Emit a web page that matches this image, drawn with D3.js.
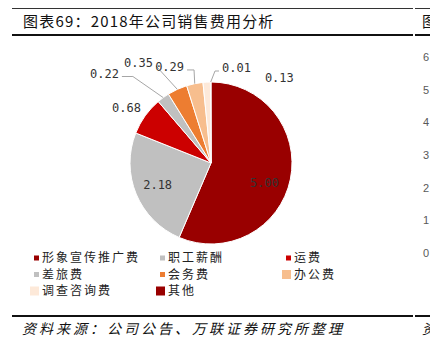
<!DOCTYPE html>
<html lang="zh">
<head>
  <meta charset="UTF-8">
  <title>2018年公司销售费用分析</title>
  <style>
    html, body { margin: 0; padding: 0; background: #fff; }
    svg { display: block; }
    .title { font-family: "Noto Sans CJK SC", sans-serif; font-size: 15px; fill: #111; letter-spacing: 1.2px; }
    .source { font-family: "Noto Sans CJK SC", sans-serif; font-size: 14px; font-style: italic; fill: #111; letter-spacing: 3px; }
    .legend text { font-family: "Noto Sans CJK SC", sans-serif; font-size: 12px; fill: #222; letter-spacing: 2px; }
    .label { font-family: "DejaVu Sans Mono", monospace; font-size: 12px; fill: #333; }
    .tick { font-family: "Liberation Sans", Arial, sans-serif; font-size: 11px; fill: #595959; }
  </style>
</head>
<body>
  <svg id="chart" width="430" height="352"></svg>

  <script src="https://d3js.org/d3.v7.min.js"></script>
  <script>
    const categories = ['形象宣传推广费', '职工薪酬', '运费', '差旅费', '会务费', '办公费', '调查咨询费', '其他'];
    const values = [5.00, 2.18, 0.68, 0.22, 0.35, 0.29, 0.13, 0.01];
    const colors = ['#990000', '#c0c0c0', '#cc0000', '#c0c0c0', '#ed7d31', '#f7be8e', '#fde9d9', '#990000'];
    // neighbouring chart's axis, partly visible at the right edge
    const nextTicks = [0, 1, 2, 3, 4, 5, 6];

    // where each data label goes (offsets from its slice)
    const labelLayout = [
      { mode: 'in', dx: -2, dy: 8.5 },
      { mode: 'in', dx: -1, dy: 0 },
      { mode: 'out', side: -1, dx: -1.1, dy: -5.4, h: 0, line: false },
      { mode: 'out', side: -1, dx: -41.3, dy: -21.1, h: 11, line: true },
      { mode: 'out', side: -1, dx: -21.3, dy: -23.4, h: 0, line: true },
      { mode: 'out', side: -1, dx: -7.7, dy: -13.7, h: 7, line: true },
      { mode: 'out', side: 1, dx: 55.2, dy: -1.6, h: 0, line: false },
      { mode: 'out', side: 1, dx: 8.3, dy: -11, h: 4, line: true }
    ];
    const bigMarkers = new Set(['办公费', '调查咨询费', '其他']);

    const svg = d3.select('#chart');
    const cx = 211, cy = 163, radius = 81;

    // frame lines
    svg.append('line').attr('x1', 12).attr('x2', 413).attr('y1', 8.5).attr('y2', 8.5)
      .attr('stroke', '#333').attr('stroke-width', 1);
    svg.append('line').attr('x1', 415).attr('x2', 430).attr('y1', 8.5).attr('y2', 8.5)
      .attr('stroke', '#333').attr('stroke-width', 1);
    svg.append('line').attr('x1', 12).attr('x2', 413).attr('y1', 35).attr('y2', 35)
      .attr('stroke', '#111').attr('stroke-width', 2);
    svg.append('line').attr('x1', 415).attr('x2', 430).attr('y1', 35).attr('y2', 35)
      .attr('stroke', '#111').attr('stroke-width', 2);
    svg.append('line').attr('x1', 12).attr('x2', 413).attr('y1', 316).attr('y2', 316)
      .attr('stroke', '#111').attr('stroke-width', 2);
    svg.append('line').attr('x1', 415).attr('x2', 430).attr('y1', 316).attr('y2', 316)
      .attr('stroke', '#111').attr('stroke-width', 2);

    svg.append('text').attr('class', 'title').attr('x', 23).attr('y', 27)
      .text('图表69：2018年公司销售费用分析');
    svg.append('text').attr('class', 'title').attr('x', 422).attr('y', 27).text('图');

    svg.append('text').attr('class', 'source').attr('x', 22).attr('y', 334)
      .text('资料来源：公司公告、万联证券研究所整理');
    svg.append('text').attr('class', 'source').attr('x', 422).attr('y', 334).text('资');

    // right-edge axis of the next chart
    const yNext = d3.scaleLinear().domain([0, 6]).range([253, 57]);
    svg.append('g').selectAll('text')
      .data(nextTicks)
      .enter().append('text')
      .attr('class', 'tick')
      .attr('x', 423)
      .attr('y', d => yNext(d))
      .attr('dy', '0.35em')
      .text(d => d);

    // pie
    const pie = d3.pie().sort(null).value(d => d);
    const arcs = pie(values);
    const arc = d3.arc().innerRadius(0).outerRadius(radius);
    const inner = d3.arc().innerRadius(radius * 0.7).outerRadius(radius * 0.7);

    const g = svg.append('g').attr('transform', `translate(${cx},${cy})`);

    g.selectAll('path.slice')
      .data(arcs)
      .enter().append('path')
      .attr('class', 'slice')
      .attr('d', arc)
      .attr('fill', (d, i) => colors[i])
      .attr('stroke', '#fff')
      .attr('stroke-width', 1);

    const mid = d => (d.startAngle + d.endAngle) / 2;
    const onEdge = d => [radius * Math.sin(mid(d)), -radius * Math.cos(mid(d))];

    arcs.forEach((d, i) => {
      const lay = labelLayout[i];
      const txt = values[i].toFixed(2);
      if (lay.mode === 'in') {
        const [x, y] = inner.centroid(d);
        g.append('text').attr('class', 'label')
          .attr('x', x + lay.dx).attr('y', y + lay.dy)
          .attr('text-anchor', 'middle').attr('dominant-baseline', 'central')
          .text(txt);
        return;
      }
      const [px, py] = onEdge(d);
      const lx = px + lay.dx, ly = py + lay.dy;
      if (lay.line) {
        const ex = lx - lay.side * lay.h;
        g.append('path')
          .attr('d', d3.line()([[px, py], [ex, ly], [lx, ly]]))
          .attr('fill', 'none')
          .attr('stroke', '#a6a6a6')
          .attr('stroke-width', 1);
      }
      g.append('text').attr('class', 'label')
        .attr('x', lx + lay.side * 3)
        .attr('y', ly + 1)
        .attr('text-anchor', lay.side < 0 ? 'end' : 'start')
        .text(txt);
    });

    // legend
    const legend = svg.append('g').attr('class', 'legend');
    const colX = d3.scaleOrdinal().domain([0, 1, 2]).range([42, 168, 294]);
    const item = legend.selectAll('g')
      .data(categories)
      .enter().append('g')
      .attr('transform', (d, i) => `translate(${colX(i % 3)},${258 + Math.floor(i / 3) * 16.5})`);

    item.append('rect')
      .attr('x', d => bigMarkers.has(d) ? -12 : -8)
      .attr('y', d => bigMarkers.has(d) ? -4.5 : -2.5)
      .attr('width', d => bigMarkers.has(d) ? 9 : 5)
      .attr('height', d => bigMarkers.has(d) ? 9 : 5)
      .attr('fill', (d, i) => colors[i]);

    item.append('text')
      .attr('x', 0)
      .attr('dy', '0.36em')
      .text(d => d);
  </script>
</body>
</html>
